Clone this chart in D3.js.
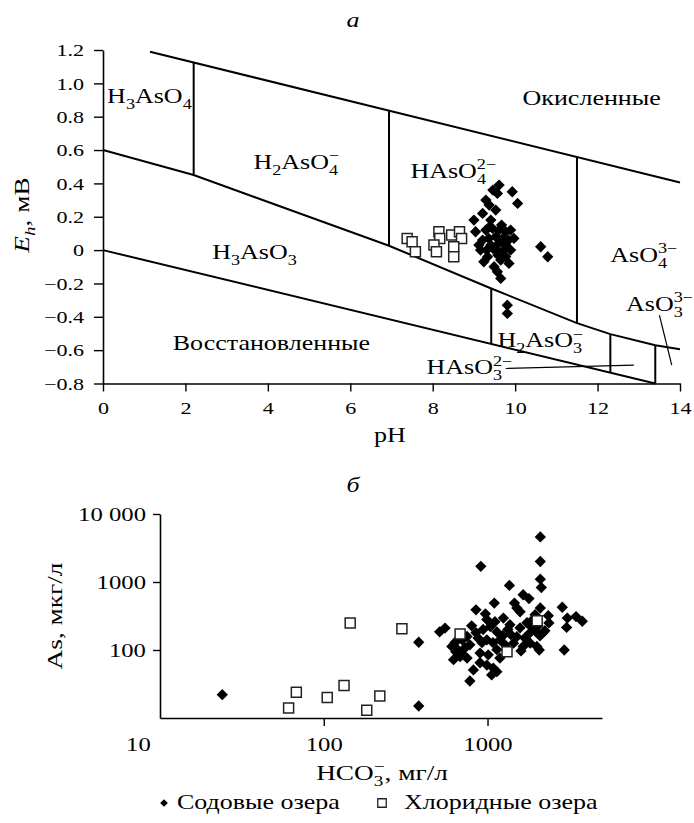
<!DOCTYPE html>
<html>
<head>
<meta charset="utf-8">
<style>
  body, html { margin: 0; padding: 0; background: white; }
  svg text { font-family: 'Liberation Serif', 'Times New Roman', serif; fill: black; }
</style>
</head>
<body>
<svg id="chart" width="694" height="823"></svg>
<script src="https://cdnjs.cloudflare.com/ajax/libs/d3/7.8.5/d3.min.js"></script>
<script>
// ---- panel а : Eh - pH diagram ----
const phTicks = [0, 2, 4, 6, 8, 10, 12, 14];
const ehTicks = [1.2, 1.0, 0.8, 0.6, 0.4, 0.2, 0, -0.2, -0.4, -0.6, -0.8];

// field boundaries [pH, Eh]
const upperBound = [[1.14, 1.19], [14, 0.405]];
const middleBound = [[0, 0.6], [2.2, 0.45], [6.94, 0.026], [9.42, -0.23], [11.5, -0.438], [12.31, -0.504], [13.4, -0.57], [14, -0.594]];
const lowerBound = [[0, 0], [13.4, -0.8]];
const upperSplits = [2.2, 6.94, 11.5];   // from upper to middle boundary
const lowerSplits = [9.42, 12.31, 13.4]; // from middle to lower boundary
const leaders = [[[9.77, -0.71], [12.88, -0.69]], [[13.5, -0.39], [13.8, -0.69]]];

const sodaPH = [9.61, 9.46, 9.57, 9.93, 10.06, 9.29, 9.37, 9.53, 9.21, 9.00, 9.41, 9.04, 9.29, 9.45, 9.61, 9.77,
  9.89, 9.36, 9.53, 9.70, 9.21, 9.84, 9.41, 9.60, 9.77, 9.12, 9.97, 9.31, 9.53, 9.89, 9.77, 9.58, 9.65, 9.16,
  9.33, 9.24, 9.85, 9.49, 9.57, 9.65, 10.62, 10.79, 9.81, 9.81, 9.46, 9.72, 9.38, 9.67];
const sodaEh = [0.39, 0.36, 0.34, 0.35, 0.28, 0.30, 0.27, 0.24, 0.22, 0.18, 0.18, 0.11, 0.12, 0.13, 0.12, 0.11,
  0.12, 0.07, 0.08, 0.07, 0.06, 0.06, 0.03, 0.04, 0.03, 0.03, 0.07, 0.00, 0.00, 0.00, -0.04, -0.03, -0.06, 0.00,
  -0.04, -0.07, -0.08, -0.10, -0.13, -0.17, 0.02, -0.04, -0.33, -0.38, 0.01, 0.00, 0.14, 0.15];
const chloridePH = [7.38, 7.50, 7.58, 8.15, 8.17, 8.03, 8.09, 8.46, 8.65, 8.70, 8.51, 8.51];
const chlorideEh = [0.07, 0.05, -0.01, 0.11, 0.07, 0.03, -0.01, 0.09, 0.11, 0.07, 0.02, -0.04];

// ---- panel б : As vs HCO3 ----
const hco3Ticks = [10, 100, 1000];
const asTicks = [100, 1000, 10000];
const sodaHCO3 = [24, 380, 380, 2100, 2100, 910, 2100, 2130, 1360, 1650, 1790, 1100, 1460, 1510, 850, 970, 1250,
  2100, 2350, 2860, 3070, 3470, 3790, 3040, 2940, 2070, 1600, 1390, 800, 550, 510, 620, 780, 820, 680, 750, 605,
  635, 700, 750, 850, 940, 1040, 1140, 1240, 990, 925, 1080, 1190, 900, 990, 1085, 1140, 1060, 1190, 1440, 1690,
  1820, 1950, 2090, 2180, 1820, 1740, 1890, 2030, 2240, 1650, 1820, 2000, 990, 1110, 1370, 1280, 780, 875, 1330,
  1950, 1580, 1140, 1010, 640, 1580, 2370, 1510, 900, 660, 730, 710];
const sodaAs = [22, 15, 130, 4600, 2000, 1700, 1100, 830, 890, 650, 570, 490, 490, 415, 390, 340, 295,
  415, 320, 425, 295, 310, 265, 215, 100, 100, 97, 168, 227, 210, 185, 72, 35, 51, 80, 76, 113,
  130, 141, 158, 180, 200, 220, 185, 162, 141, 128, 128, 141, 90, 60, 54, 48, 43, 76, 126, 150,
  180, 192, 162, 180, 227, 252, 280, 227, 192, 113, 126, 113, 280, 260, 235, 119, 119, 150, 200,
  330, 212, 101, 85, 94, 365, 250, 157, 65, 100, 108, 85];
const chlorideHCO3 = [145, 300, 68, 61, 105, 133, 220, 183, 680, 1315, 2010];
const chlorideAs = [250, 205, 24, 14, 20, 30, 21, 13, 172, 94, 270];

const SX = 1.3; // glyphs in the original are set wide

const svg = d3.select("#chart");
svg.append("rect").attr("width", 694).attr("height", 823).attr("fill", "white");

// text with chemical sub/superscripts, stretched horizontally
function label(parent, x, y, parts, o = {}) {
  const fs = o.size || 20;
  const g = parent.append("g")
    .attr("transform", `translate(${x},${y})` + (o.rotate ? ` rotate(${o.rotate})` : "") + ` scale(${SX},1)`);
  const t = g.append("text").attr("font-size", fs).attr("text-anchor", o.anchor || "start");
  if (o.italic) t.attr("font-style", "italic");
  let shift = 0;
  for (const p of parts) {
    if (typeof p === "string") {
      t.append("tspan").attr("dy", -shift).attr("font-style", o.itFirst && p === parts[0] ? "italic" : null).text(p);
      shift = 0;
      continue;
    }
    const sfs = fs * 0.7;
    if (p.sub) {
      t.append("tspan").attr("font-size", sfs).attr("dy", fs * 0.3 - shift)
        .attr("font-style", p.it ? "italic" : null).text(p.sub);
      shift = fs * 0.3;
    }
    if (p.sup) {
      t.append("tspan").attr("font-size", sfs)
        .attr("dx", p.sub ? -sfs * 0.5 * p.sub.length : 0)
        .attr("dy", -fs * 0.42 - shift).text(p.sup);
      shift = -fs * 0.42;
    }
  }
  return t;
}

function ehAt(line, ph) {
  for (let i = 0; i < line.length - 1; i++) {
    const [x0, y0] = line[i], [x1, y1] = line[i + 1];
    if (ph >= x0 - 1e-9 && ph <= x1 + 1e-9) return y0 + (y1 - y0) * (ph - x0) / (x1 - x0);
  }
  return line[line.length - 1][1];
}

const diamond = d3.symbol(d3.symbolSquare, 64);
const square = d3.symbol(d3.symbolSquare, 100);

// ================= panel а =================
const xA = d3.scaleLinear().domain([0, 14]).range([103, 680]);
const yA = d3.scaleLinear().domain([-0.8, 1.2]).range([383.5, 50]);
const gA = svg.append("g");

const lineA = d3.line().x(d => xA(d[0])).y(d => yA(d[1]));
[upperBound, middleBound, lowerBound].forEach(l => {
  gA.append("path").attr("d", lineA(l)).attr("fill", "none").attr("stroke", "black").attr("stroke-width", 2);
});
upperSplits.forEach(ph => {
  gA.append("path").attr("d", lineA([[ph, ehAt(upperBound, ph)], [ph, ehAt(middleBound, ph)]]))
    .attr("stroke", "black").attr("stroke-width", 2);
});
lowerSplits.forEach(ph => {
  gA.append("path").attr("d", lineA([[ph, ehAt(middleBound, ph)], [ph, ehAt(lowerBound, ph)]]))
    .attr("stroke", "black").attr("stroke-width", 2);
});
leaders.forEach(l => {
  gA.append("path").attr("d", lineA(l)).attr("stroke", "black").attr("stroke-width", 1.2);
});

gA.append("g").selectAll("path").data(sodaPH).join("path")
  .attr("d", diamond)
  .attr("transform", (d, i) => `translate(${xA(d)},${yA(sodaEh[i])}) rotate(45)`)
  .attr("fill", "black");
gA.append("g").selectAll("path").data(chloridePH).join("path")
  .attr("d", square)
  .attr("transform", (d, i) => `translate(${xA(d)},${yA(chlorideEh[i])})`)
  .attr("fill", "white").attr("stroke", "#222").attr("stroke-width", 1.5);

const ehFormat = d => d === 0 ? "0" : d3.format(".1f")(d);
const axLeftA = gA.append("g").attr("transform", `translate(${xA(0)},0)`)
  .call(d3.axisLeft(yA).tickValues(ehTicks).tickFormat(ehFormat).tickSize(9).tickSizeOuter(0));
const axBotA = gA.append("g").attr("transform", `translate(0,${yA(-0.8)})`)
  .call(d3.axisBottom(xA).tickValues(phTicks).tickSize(8).tickSizeOuter(0));
[axLeftA, axBotA].forEach(a => {
  a.select(".domain").attr("stroke-width", 1.6);
  a.selectAll(".tick line").attr("stroke-width", 1.4);
  a.selectAll("text").attr("font-family", null).attr("font-size", 17).attr("fill", "black")
    .attr("transform", `scale(${SX},1)`);
});
axLeftA.selectAll("text").attr("x", -14.6).attr("dy", "0.34em");
axBotA.selectAll("text").attr("y", 31).attr("dy", null);

label(gA, 353, 27, ["a"], { anchor: "middle", italic: true, size: 20 });
label(gA, 390, 442, ["pH"], { anchor: "middle", size: 20 });
label(gA, 29, 215, ["E", { sub: "h", it: true }, ", мВ"], { anchor: "middle", rotate: -90, size: 21, itFirst: true });

const fieldLabels = [
  { ph: 0.10, eh: 0.884, parts: ["H", { sub: "3" }, "AsO", { sub: "4" }] },
  { ph: 3.65, eh: 0.488, parts: ["H", { sub: "2" }, "AsO", { sub: "4", sup: "−" }] },
  { ph: 7.46, eh: 0.434, parts: ["HAsO", { sub: "4", sup: "2−" }] },
  { ph: 10.18, eh: 0.872, parts: ["Окисленные"] },
  { ph: 2.65, eh: -0.054, parts: ["H", { sub: "3" }, "AsO", { sub: "3" }] },
  { ph: 1.69, eh: -0.60, parts: ["Восстановленные"] },
  { ph: 12.31, eh: -0.07, parts: ["AsO", { sub: "4", sup: "3−" }] },
  { ph: 12.69, eh: -0.364, parts: ["AsO", { sub: "3", sup: "3−" }] },
  { ph: 9.57, eh: -0.584, parts: ["H", { sub: "2" }, "AsO", { sub: "3", sup: "−" }] },
  { ph: 7.85, eh: -0.744, parts: ["HAsO", { sub: "3", sup: "2−" }] }
];
fieldLabels.forEach(f => label(gA, xA(f.ph), yA(f.eh), f.parts, { size: 20 }));

// ================= panel б =================
const xB = d3.scaleLog().domain([10, 5000]).range([160, 602]);
const yB = d3.scaleLog().domain([10, 10000]).range([718, 514]);
const gB = svg.append("g");

gB.append("g").selectAll("path").data(sodaHCO3).join("path")
  .attr("d", diamond)
  .attr("transform", (d, i) => `translate(${xB(d)},${yB(sodaAs[i])}) rotate(45)`)
  .attr("fill", "black");
gB.append("g").selectAll("path").data(chlorideHCO3).join("path")
  .attr("d", square)
  .attr("transform", (d, i) => `translate(${xB(d)},${yB(chlorideAs[i])})`)
  .attr("fill", "white").attr("stroke", "#222").attr("stroke-width", 1.5);

const asFormat = d => d === 10000 ? "10 000" : String(d);
const axLeftB = gB.append("g").attr("transform", `translate(${xB(10)},0)`)
  .call(d3.axisLeft(yB).tickValues(asTicks).tickFormat(asFormat).tickSize(7).tickSizeOuter(0));
const axBotB = gB.append("g").attr("transform", `translate(0,${yB(10)})`)
  .call(d3.axisBottom(xB).tickValues(hco3Ticks).tickFormat(d => String(d)).tickSize(8).tickSizeOuter(0));
[axLeftB, axBotB].forEach(a => {
  a.select(".domain").attr("stroke-width", 1.6);
  a.selectAll(".tick line").attr("stroke-width", 1.4);
  a.selectAll("text").attr("font-family", null).attr("font-size", 19).attr("fill", "black")
    .attr("transform", `scale(${SX},1)`);
});
axLeftB.selectAll("text").attr("x", -10.8).attr("dy", "0.34em");
axBotB.selectAll("text").attr("y", 33).attr("dy", null);
axBotB.selectAll(".tick").filter(d => d === 10).select("line").remove();
axBotB.selectAll(".tick").filter(d => d === 10).select("text").attr("x", -17);

label(gB, 353, 492, ["б"], { anchor: "middle", italic: true, size: 20 });
label(gB, 62, 616, ["As, мкг/л"], { anchor: "middle", rotate: -90, size: 21 });
label(gB, 382, 780, ["HCO", { sub: "3", sup: "−" }, ", мг/л"], { anchor: "middle", size: 21 });

// legend
const lg = svg.append("g");
lg.append("path").attr("d", d3.symbol(d3.symbolSquare, 30))
  .attr("transform", "translate(164,803) rotate(45)").attr("fill", "black");
label(lg, 177, 809, ["Содовые озера"], { size: 20 });
lg.append("path").attr("d", d3.symbol(d3.symbolSquare, 72))
  .attr("transform", "translate(382,803)").attr("fill", "white").attr("stroke", "#222").attr("stroke-width", 1.3);
label(lg, 404, 809, ["Хлоридные озера"], { size: 20 });
</script>
</body>
</html>
